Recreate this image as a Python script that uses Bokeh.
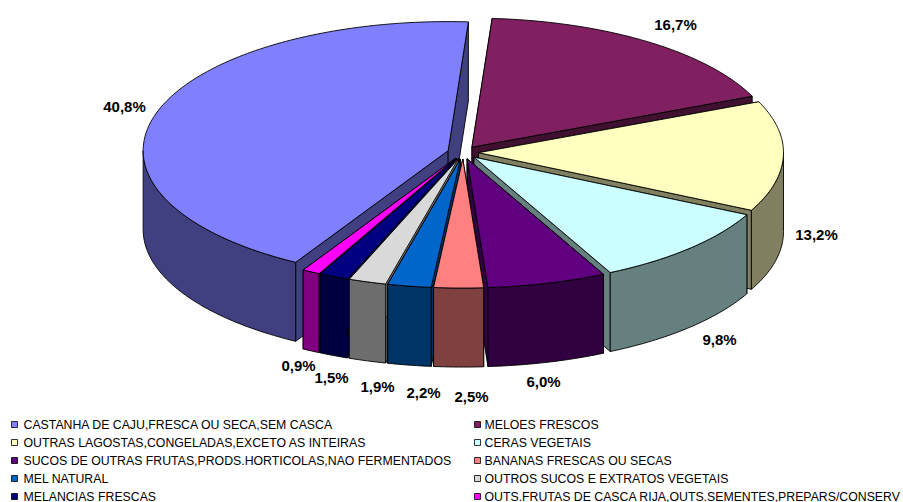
import math
from bokeh.core.properties import value
from bokeh.embed import file_html
from bokeh.models import ColumnDataSource, Range1d
from bokeh.plotting import figure
from bokeh.resources import INLINE

# Export shares by product (percent); they add up to the drawn pie.
products = [
    "CASTANHA DE CAJU,FRESCA OU SECA,SEM CASCA",
    "MELOES FRESCOS",
    "OUTRAS LAGOSTAS,CONGELADAS,EXCETO AS INTEIRAS",
    "CERAS VEGETAIS",
    "SUCOS DE OUTRAS FRUTAS,PRODS.HORTICOLAS,NAO FERMENTADOS",
    "BANANAS FRESCAS OU SECAS",
    "MEL NATURAL",
    "OUTROS SUCOS E EXTRATOS VEGETAIS",
    "MELANCIAS FRESCAS",
    "OUTS.FRUTAS DE CASCA RIJA,OUTS.SEMENTES,PREPARS/CONSERV",
]
shares = [40.8, 16.7, 13.2, 9.8, 6.0, 2.5, 2.2, 1.9, 1.5, 0.9]

top_colors = ["#8080FF", "#802060", "#FFFFC0", "#CCFFFF", "#600080",
              "#FF8080", "#0066CC", "#D9D9D9", "#000080", "#FF00FF"]
wall_colors = ["#404080", "#401030", "#808060", "#668080", "#300040",
               "#804040", "#003366", "#6D6D6D", "#000040", "#800080"]

# Projection of the tilted pie, in page pixels.
CX, CY = 462.5, 152.0
RX, RY = 305.0, 129.0
DEPTH = 79.0
EXPLODE = 15.5
START_DEG = 210.0
W, H = 903, 502

label_xy = [(124, 106), (675, 24), (816, 234), (719, 339), (543, 381),
            (471, 396), (423, 392), (377, 386), (331, 377), (298, 365)]
legend_rows = [424, 442, 460, 478, 496]
legend_cols = [(14, 23), (477, 484)]


def rim(theta, ox, oy, drop=0.0):
    t = math.radians(theta)
    return ox + RX * math.sin(t), oy - RY * math.cos(t) + drop


def arc(a, b, ox, oy, drop=0.0):
    n = max(2, int(abs(b - a)) + 2)
    return [rim(a + (b - a) * i / (n - 1), ox, oy, drop) for i in range(n)]


total = sum(shares)
slices = []
angle = START_DEG
for i, share in enumerate(shares):
    sweep = share / total * 360.0
    slices.append((i, angle, angle + sweep))
    angle += sweep

# Paint from the back of the pie to the front.
slices.sort(key=lambda s: -math.cos(math.radians((s[1] + s[2]) / 2)))

xs, ys, fills = [], [], []


def add(points, color):
    xs.append([q[0] for q in points])
    ys.append([q[1] for q in points])
    fills.append(color)


for i, a, b in slices:
    mid = math.radians((a + b) / 2)
    ox = CX + EXPLODE * math.sin(mid)
    oy = CY - EXPLODE * (RY / RX) * math.cos(mid)
    # radial cut faces
    for edge in (a, b):
        r0 = rim(edge, ox, oy)
        r1 = rim(edge, ox, oy, DEPTH)
        add([(ox, oy), r0, r1, (ox, oy + DEPTH)], wall_colors[i])
    # outer curved wall: only the part that faces the viewer
    for shift in (0, 360):
        lo = max(a, 90 + shift)
        hi = min(b, 270 + shift)
        if hi > lo:
            add(arc(lo, hi, ox, oy) + arc(hi, lo, ox, oy, DEPTH), wall_colors[i])
    add([(ox, oy)] + arc(a, b, ox, oy), top_colors[i])

p = figure(width=W, height=H, output_backend="svg", toolbar_location=None,
           x_range=Range1d(0, W), y_range=Range1d(H, 0),
           min_border=0, outline_line_color=None)
p.axis.visible = False
p.grid.visible = False
p.background_fill_color = "white"
p.border_fill_color = "white"

p.patches("xs", "ys", fill_color="fills", line_color="black", line_width=0.9,
          source=ColumnDataSource(dict(xs=xs, ys=ys, fills=fills)))

p.text(x=[q[0] for q in label_xy], y=[q[1] for q in label_xy],
       text=[f"{v:.1f}%".replace(".", ",") for v in shares],
       text_font=value("Liberation Sans"), text_font_style="bold",
       text_font_size="15px", text_color="black",
       text_align="center", text_baseline="middle")

lx, ly, tx = [], [], []
for n in range(len(products)):
    row = legend_rows[n // 2]
    col = legend_cols[n % 2]
    lx.append(col[0])
    ly.append(row)
    tx.append(col[1])

p.rect(x=lx, y=ly, width=6, height=6, fill_color=top_colors,
       line_color="black", line_width=0.8)
p.text(x=tx, y=ly, text=products, text_font=value("Liberation Sans"),
       text_font_size="12.3px", text_color="black",
       text_align="left", text_baseline="middle")

open("out.html", "w").write(file_html(p, INLINE))
